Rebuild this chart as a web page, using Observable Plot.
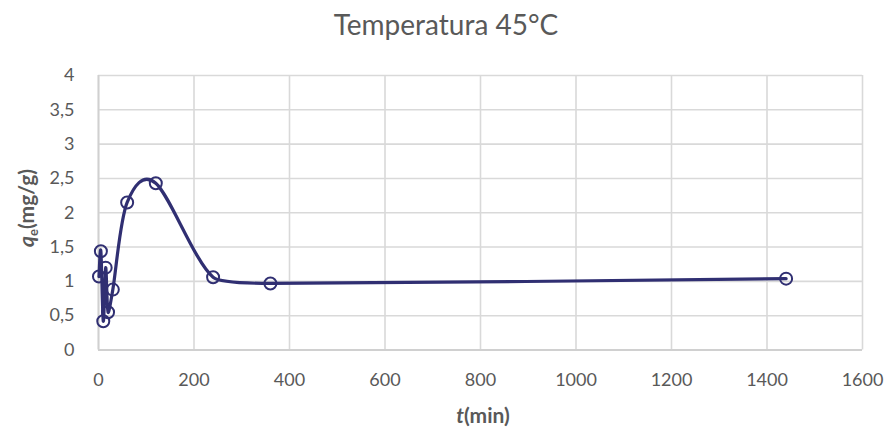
<!DOCTYPE html>
<html>
<head>
<meta charset="utf-8">
<script src="https://cdn.jsdelivr.net/npm/d3@7"></script>
<script src="https://cdn.jsdelivr.net/npm/@observablehq/plot@0.6"></script>
<style>
  html, body { margin: 0; padding: 0; background: #fff; }
  #wrap { position: relative; width: 892px; height: 435px; font-family: Lato, "Open Sans", sans-serif; color: #595959; }
  #title { position: absolute; left: 0; top: 5px; width: 892px; text-align: center; font-size: 28px; line-height: 38px; color: #595959; }
  #xlabel { position: absolute; left: 98px; width: 770px; top: 402px; text-align: center; font-size: 21px; font-weight: bold; line-height: 26px; color: #595959; }
  #ylabel { position: absolute; left: 26px; top: 208px; transform: translate(-50%, -50%) rotate(-90deg); white-space: nowrap; font-size: 21px; font-weight: bold; line-height: 26px; color: #595959; }
  #chart { position: absolute; left: 0; top: 0; }
  sub { font-size: 13px; vertical-align: -4px; line-height: 0; }
</style>
</head>
<body>
<div id="wrap">
  <div id="chart"></div>
  <div id="title">Temperatura 45°C</div>
  <div id="xlabel"><i>t</i>(min)</div>
  <div id="ylabel"><i>q</i><sub>e</sub>(mg/g)</div>
</div>
<script>
// Data
const times = [1, 5, 10, 15, 20, 30, 60, 120, 240, 360, 1440];
const qe    = [1.07, 1.44, 0.42, 1.20, 0.55, 0.88, 2.15, 2.43, 1.06, 0.97, 1.04];
const xTicks = [0, 200, 400, 600, 800, 1000, 1200, 1400, 1600];
const yTicks = [0, 0.5, 1, 1.5, 2, 2.5, 3, 3.5, 4];

const data = times.map((t, i) => ({t, q: qe[i]}));
const col = "#302F72";
const grid = "#d9d9d9";

// Spreadsheet-style smoothed line: Bezier segments with 1/6 Catmull-Rom tangents,
// shortened (same factor at both ends) so no control arm exceeds half the segment.
function SmoothCurve(context) { this._context = context; }
SmoothCurve.prototype = {
  areaStart() { this._line = 0; },
  areaEnd() { this._line = NaN; },
  lineStart() { this._pts = []; },
  point(x, y) { this._pts.push([+x, +y]); },
  lineEnd() {
    const p = this._pts, n = p.length, c = this._context;
    if (!n) return;
    c.moveTo(p[0][0], p[0][1]);
    if (n === 1) return;
    const dist = (a, b) => Math.hypot(b[0] - a[0], b[1] - a[1]);
    for (let i = 0; i < n - 1; i++) {
      const p0 = p[Math.max(0, i - 1)], p1 = p[i], p2 = p[i + 1], p3 = p[Math.min(n - 1, i + 2)];
      const d12 = dist(p1, p2), d02 = dist(p0, p2), d13 = dist(p1, p3);
      let f = 1 / 6;
      if (d02 > 0) f = Math.min(f, d12 / (2 * d02));
      if (d13 > 0) f = Math.min(f, d12 / (2 * d13));
      c.bezierCurveTo(
        p1[0] + (p2[0] - p0[0]) * f, p1[1] + (p2[1] - p0[1]) * f,
        p2[0] - (p3[0] - p1[0]) * f, p2[1] - (p3[1] - p1[1]) * f,
        p2[0], p2[1]);
    }
  }
};
const smooth = (context) => new SmoothCurve(context);

const chart = Plot.plot({
  width: 892,
  height: 435,
  marginTop: 75,
  marginBottom: 85.5,
  marginLeft: 98,
  marginRight: 30,
  style: { fontFamily: "Lato, 'Open Sans', sans-serif", fontSize: "18px", color: "#595959", background: "transparent" },
  x: { domain: [0, 1600] },
  y: { domain: [0, 4] },
  marks: [
    Plot.gridX(xTicks, { stroke: grid, strokeOpacity: 1, strokeWidth: 1.6 }),
    Plot.gridY(yTicks, { stroke: grid, strokeOpacity: 1, strokeWidth: 1.6 }),
    Plot.ruleY([0], { stroke: "#d0d0d0", strokeWidth: 1.8 }),
    Plot.ruleX([0], { stroke: "#d0d0d0", strokeWidth: 1.8 }),
    Plot.axisX(xTicks, { tickSize: 0, tickPadding: 23, fontSize: 18, label: null, tickFormat: d => String(d) }),
    Plot.axisY(yTicks, { tickSize: 0, tickPadding: 24, fontSize: 18, label: null, tickFormat: d => String(d).replace(".", ",") }),
    Plot.line(data, { x: "t", y: "q", stroke: col, strokeWidth: 3.2, curve: smooth }),
    Plot.dot(data, { x: "t", y: "q", r: 6, stroke: col, strokeWidth: 2, fill: "none" })
  ]
});
document.getElementById("chart").appendChild(chart);
</script>
</body>
</html>
